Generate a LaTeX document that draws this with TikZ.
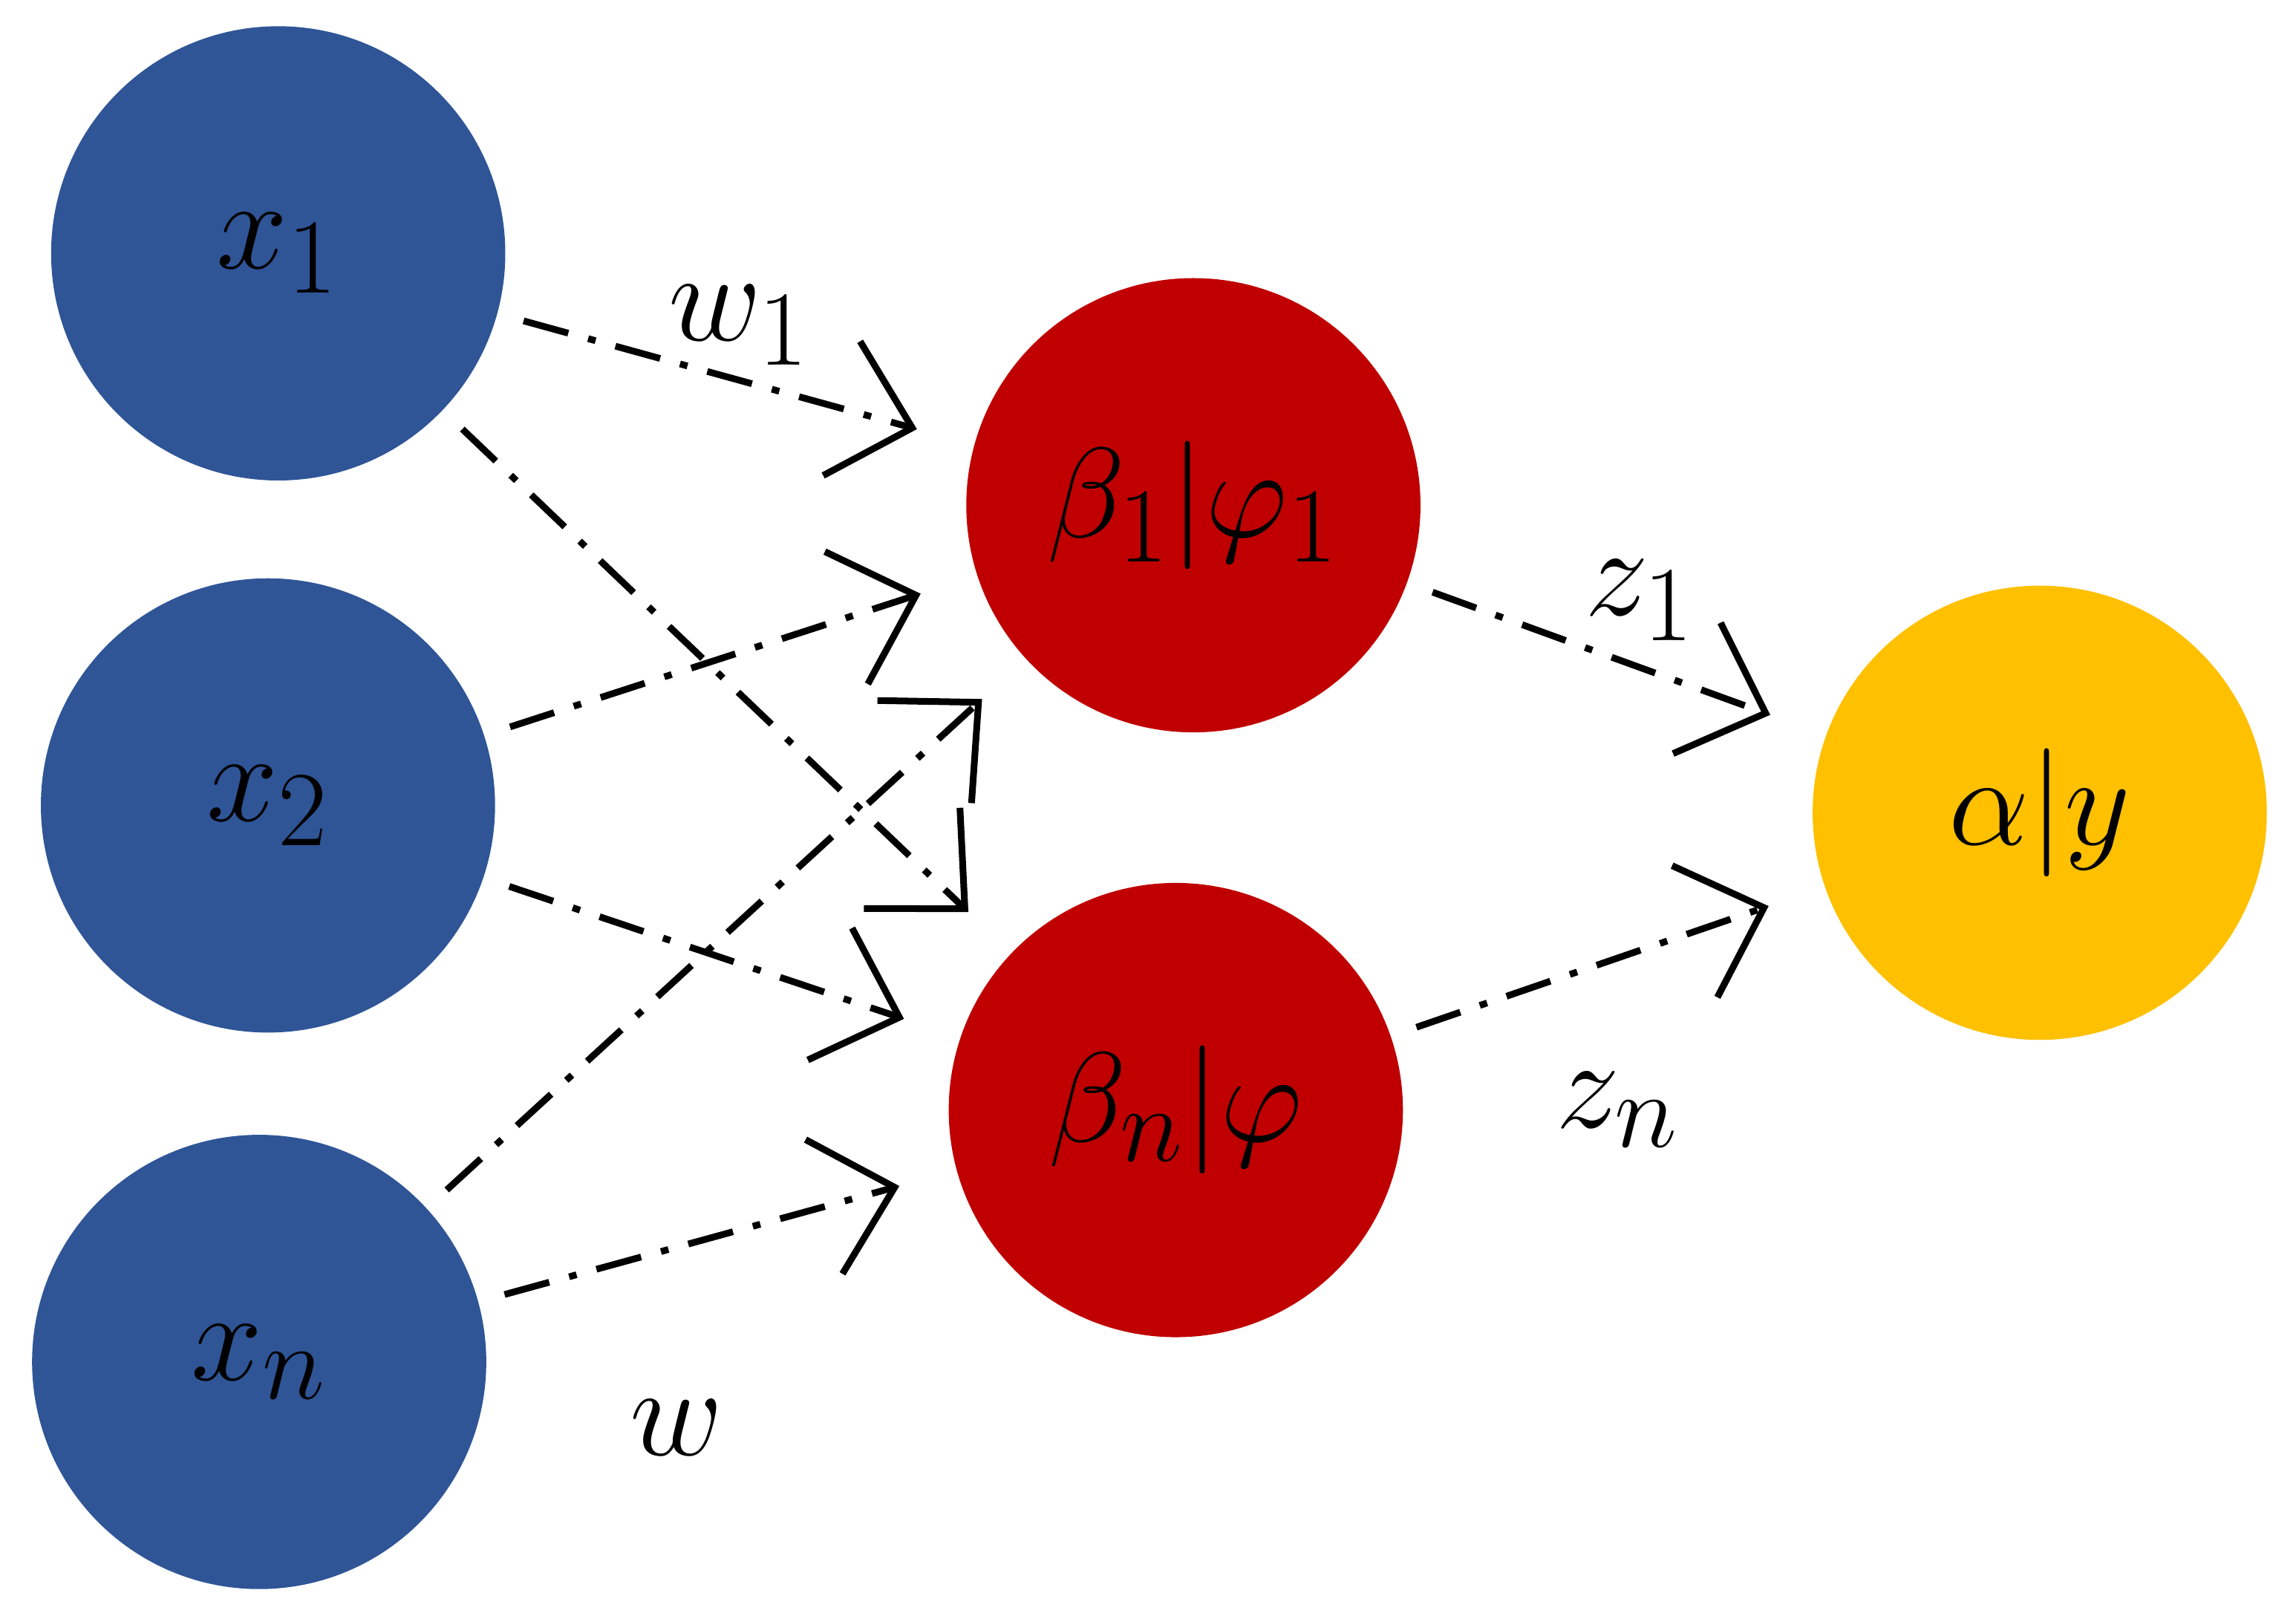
\documentclass[tikz,border=0pt]{standalone}
\usetikzlibrary{arrows.meta}
\begin{document}
\begin{tikzpicture}[x=0.01cm,y=-0.01cm,
  nd/.style={circle,minimum size=3.1cm,inner sep=0pt,font=\fontsize{28}{32}\selectfont},
  bl/.style={nd,fill={rgb,255:red,47;green,85;blue,151}},
  rd/.style={nd,fill={rgb,255:red,192;green,0;blue,0}},
  yl/.style={nd,fill={rgb,255:red,255;green,192;blue,0}},
  ar/.style={line width=1.3pt,dash pattern=on 9pt off 4pt on 1.5pt off 4pt,
     -{Straight Barb[length=0.5cm,width=0.95cm,line width=1.3pt]},shorten <=0.18cm,shorten >=0.4cm},
  lb/.style={font=\fontsize{28}{32}\selectfont}]
\useasboundingbox (0,0) rectangle (1568,1103);
\node[bl] (x1) at (190,173) {$x_1$};
\node[bl] (x2) at (183,550) {$x_2$};
\node[bl] (xn) at (177,930) {$x_n$};
\node[rd] (b1) at (815,345) {$\beta_1|\varphi_1$};
\node[rd] (bn) at (803,758) {$\beta_n|\varphi$};
\node[yl] (a) at (1393,555) {$\alpha|y$};
\draw[ar] (x1) -- (b1);
\draw[ar] (x1) -- (bn);
\draw[ar] (x2) -- (b1);
\draw[ar] (x2) -- (bn);
\draw[ar] (xn) -- (b1);
\draw[ar] (xn) -- (bn);
\draw[ar] (b1) -- (a);
\draw[ar] (bn) -- (a);
\node[lb] (lw1) at (505,222) {$w_1$};
\node[lb] (lw) at (462,975) {$w$};
\node[lb] (lz1) at (1120,410) {$z_1$};
\node[lb] (lzn) at (1105,758) {$z_n$};
\end{tikzpicture}
\end{document}
